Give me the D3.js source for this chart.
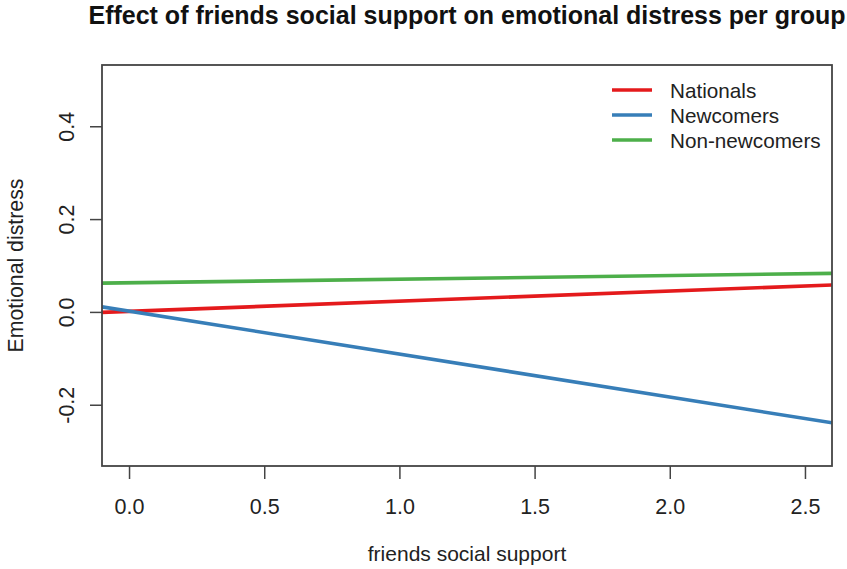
<!DOCTYPE html>
<html>
<head>
<meta charset="utf-8">
<script src="https://cdn.jsdelivr.net/npm/d3@7/dist/d3.min.js"></script>
<style>
  html, body { margin: 0; padding: 0; background: #ffffff; }
  svg { display: block; font-family: "Liberation Sans", Arial, sans-serif; }
</style>
</head>
<body>
<svg id="chart" width="847" height="569"></svg>
<script>
// Fitted lines evaluated at the ends of the plotted range of friends social support
const xEnds = [-0.1, 2.6];
const groups = ["Nationals", "Newcomers", "Non-newcomers"];
const nationals = [-0.001, 0.058];
const newcomers = [0.011, -0.239];
const nonNewcomers = [0.062, 0.083];
const colors = ["#E41A1C", "#377EB8", "#4DAF4A"];
const xTicks = [0.0, 0.5, 1.0, 1.5, 2.0, 2.5];
const yTicks = [-0.2, 0.0, 0.2, 0.4];
const xLimits = [-0.1, 2.6];
const yLimits = [-0.332, 0.532];

const seriesValues = [nationals, newcomers, nonNewcomers];

const svg = d3.select("#chart");
const box = { left: 102, right: 832, top: 65, bottom: 466 };

const x = d3.scaleLinear().domain(xLimits).range([box.left, box.right]);
const y = d3.scaleLinear().domain(yLimits).range([box.bottom, box.top]);

const axisColor = "#444";
const textColor = "#222";
// plain hyphen-minus for negative tick labels
const fmt = d => d.toFixed(1);

// Title
svg.append("text")
  .attr("x", (box.left + box.right) / 2)
  .attr("y", 24)
  .attr("text-anchor", "middle")
  .attr("font-weight", "bold")
  .attr("font-size", 25)
  .attr("fill", "#111")
  .text("Effect of friends social support on emotional distress per group");

// Series lines, clipped to the plotting region
svg.append("clipPath").attr("id", "plotClip")
  .append("rect")
  .attr("x", box.left).attr("y", box.top)
  .attr("width", box.right - box.left).attr("height", box.bottom - box.top);

const line = d3.line().x(d => x(d[0])).y(d => y(d[1]));
svg.append("g").attr("clip-path", "url(#plotClip)")
  .selectAll("path")
  .data(seriesValues)
  .join("path")
  .attr("d", vals => line(xEnds.map((xv, i) => [xv, vals[i]])))
  .attr("fill", "none")
  .attr("stroke", (d, i) => colors[i])
  .attr("stroke-width", 3.6);

// Bottom axis
const xAxis = d3.axisBottom(x).tickValues(xTicks).tickFormat(fmt)
  .tickSize(13).tickPadding(20);
const gx = svg.append("g").attr("transform", `translate(0,${box.bottom})`).call(xAxis);
gx.select(".domain").remove();
gx.selectAll(".tick line").attr("stroke", axisColor).attr("stroke-width", 1.5);
gx.selectAll(".tick text").attr("font-size", 21.5).attr("fill", textColor)
  .attr("font-family", "Liberation Sans, Arial, sans-serif");

// Left axis with rotated labels
const yAxis = d3.axisLeft(y).tickValues(yTicks).tickFormat(fmt)
  .tickSize(12).tickPadding(0);
const gy = svg.append("g").attr("transform", `translate(${box.left},0)`).call(yAxis);
gy.select(".domain").remove();
gy.selectAll(".tick line").attr("stroke", axisColor).attr("stroke-width", 1.5);
gy.selectAll(".tick text")
  .attr("x", null).attr("dy", null)
  .attr("text-anchor", "middle")
  .attr("transform", "translate(-28,0) rotate(-90)")
  .attr("font-size", 21.5).attr("fill", textColor)
  .attr("font-family", "Liberation Sans, Arial, sans-serif");

// Plot frame
svg.append("rect")
  .attr("x", box.left).attr("y", box.top)
  .attr("width", box.right - box.left).attr("height", box.bottom - box.top)
  .attr("fill", "none").attr("stroke", axisColor).attr("stroke-width", 1.8);

// Axis titles
svg.append("text")
  .attr("x", (box.left + box.right) / 2)
  .attr("y", 561)
  .attr("text-anchor", "middle")
  .attr("font-size", 21)
  .attr("fill", textColor)
  .text("friends social support");

svg.append("text")
  .attr("transform", `translate(23,${(box.top + box.bottom) / 2}) rotate(-90)`)
  .attr("text-anchor", "middle")
  .attr("font-size", 21.3)
  .attr("fill", textColor)
  .text("Emotional distress");

// Legend
const legend = svg.append("g").attr("transform", "translate(612,90)");
const items = legend.selectAll("g").data(groups).join("g")
  .attr("transform", (d, i) => `translate(0,${i * 25})`);
items.append("line")
  .attr("x1", 0).attr("x2", 40).attr("y1", 0).attr("y2", 0)
  .attr("stroke", (d, i) => colors[i]).attr("stroke-width", 3.6);
items.append("text")
  .attr("x", 58).attr("y", 8)
  .attr("font-size", 20.7)
  .attr("fill", textColor)
  .text(d => d);
</script>
</body>
</html>
